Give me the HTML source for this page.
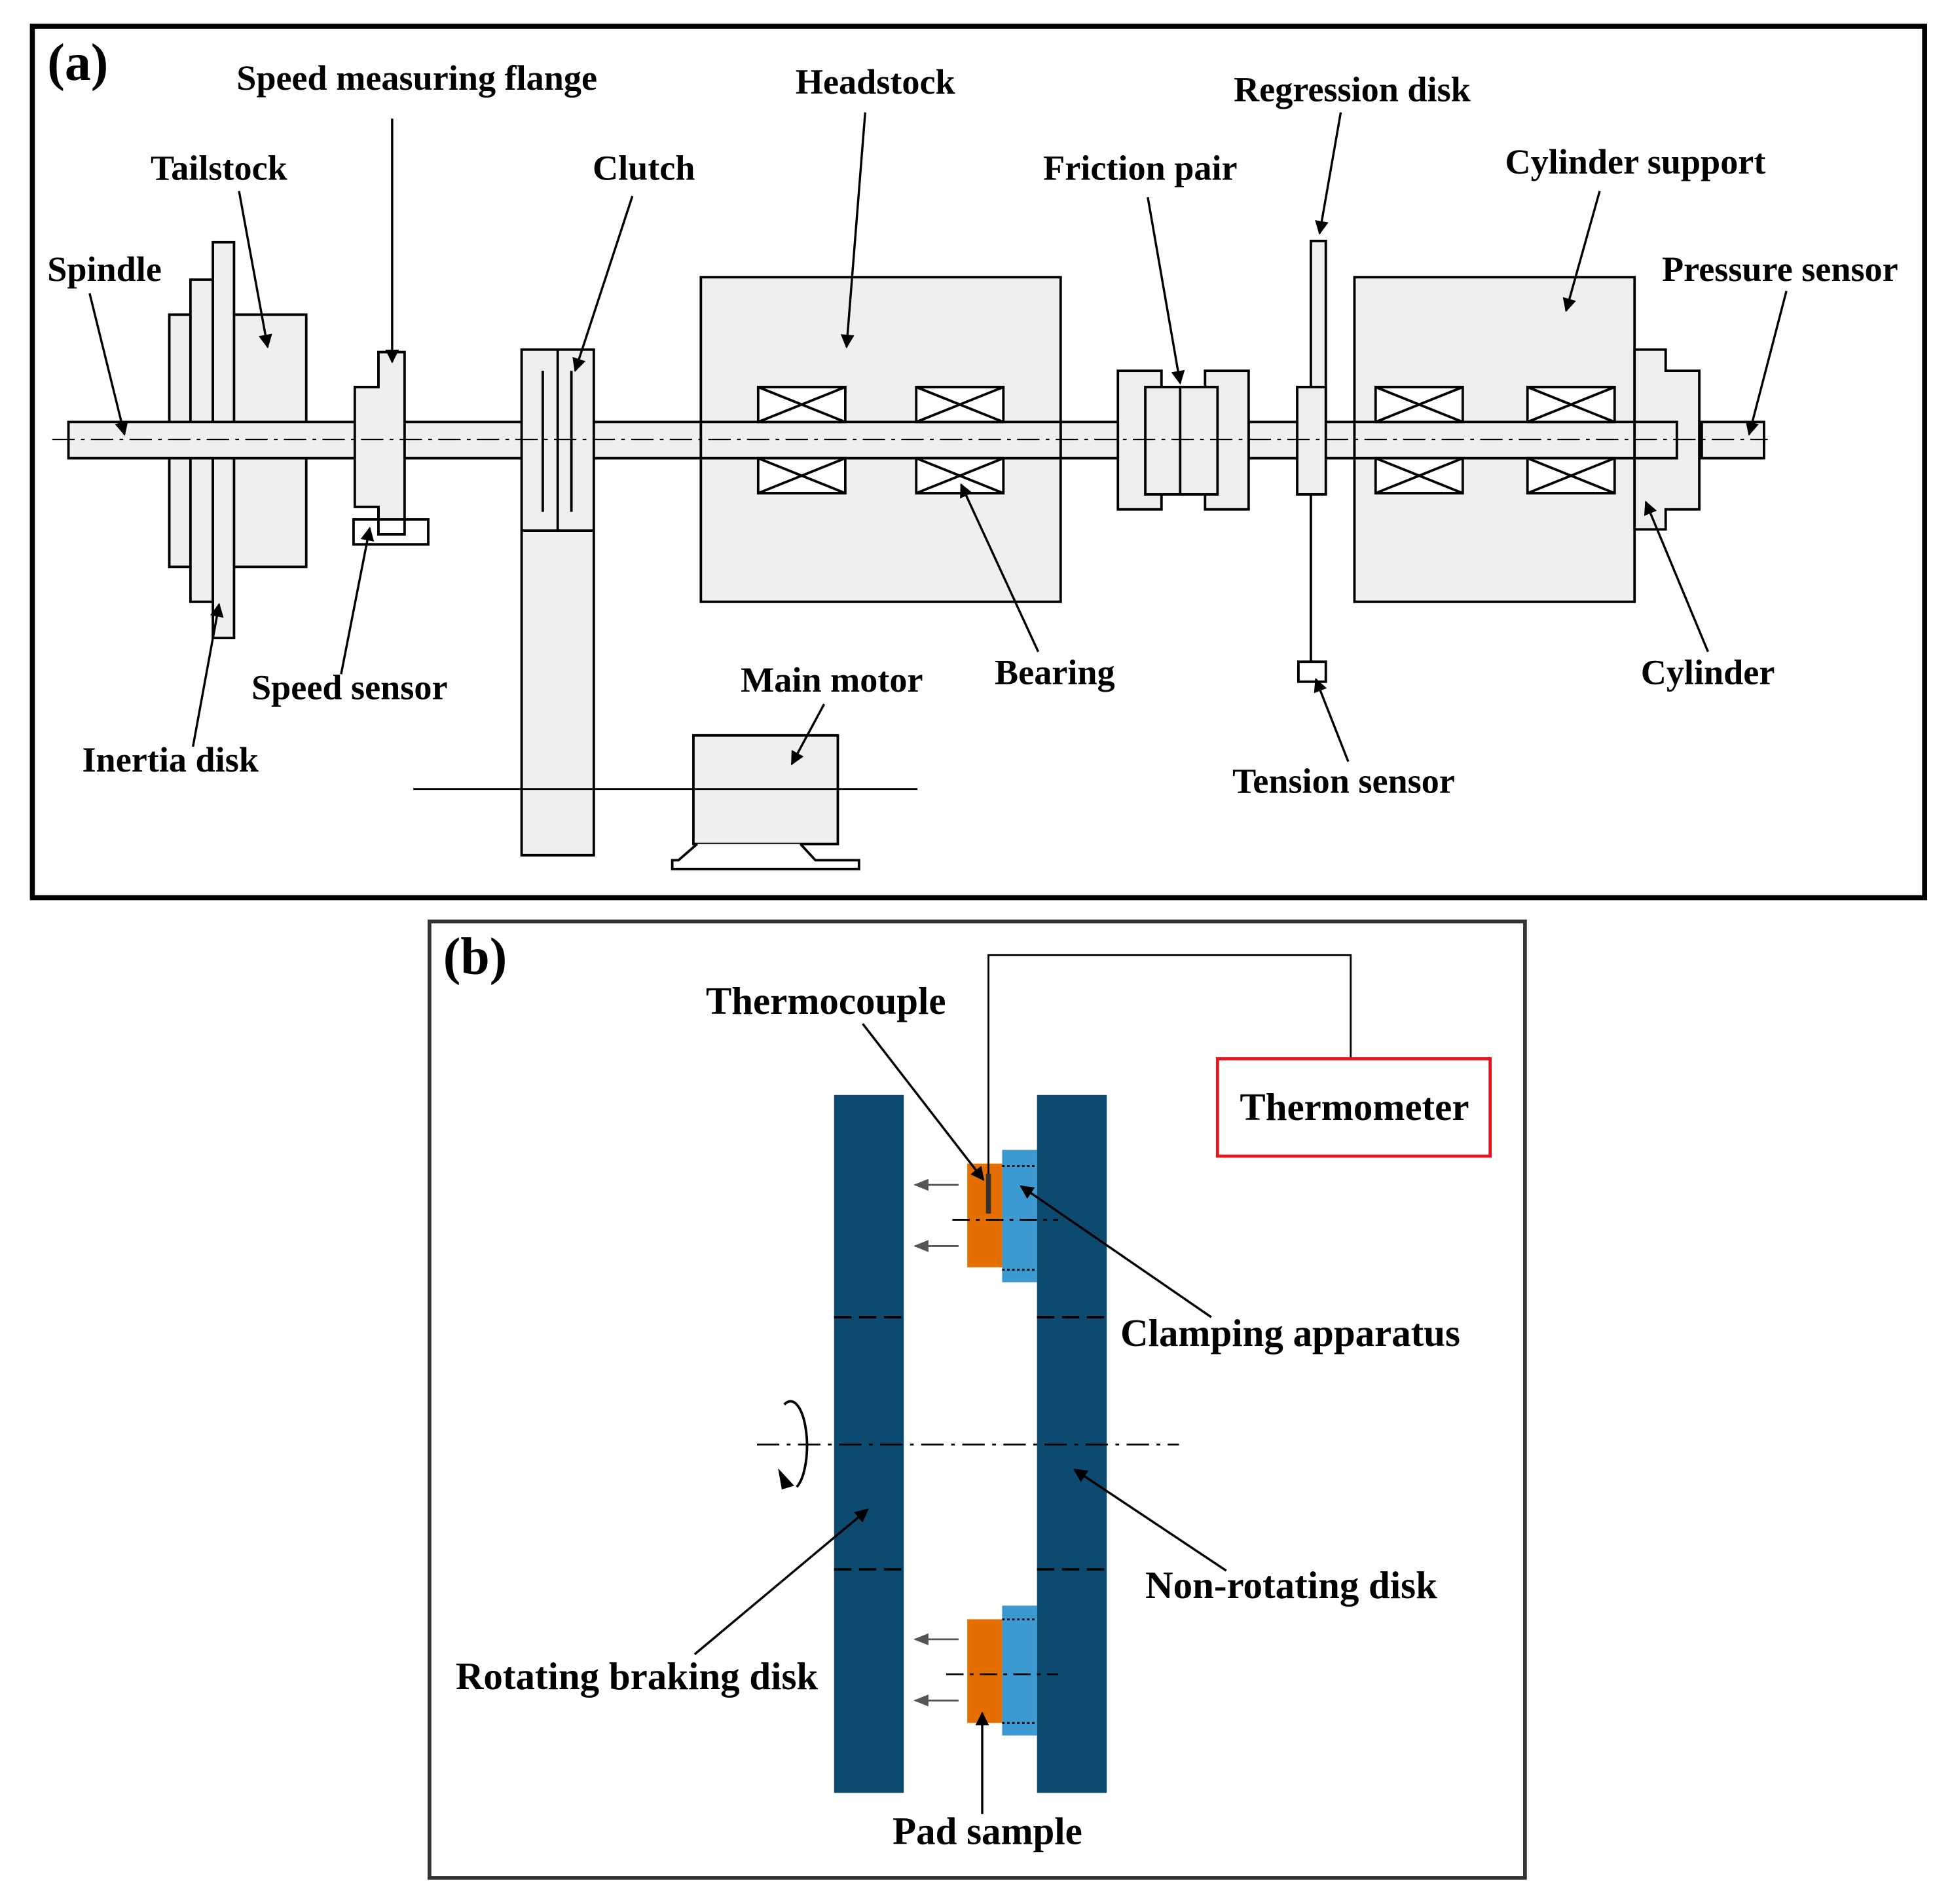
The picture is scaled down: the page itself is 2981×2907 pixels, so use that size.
<!DOCTYPE html>
<html><head><meta charset="utf-8"><style>
html,body{margin:0;padding:0;background:#fff;}
svg{display:block;}
text{font-family:"Liberation Serif",serif;font-weight:bold;font-size:28.5px;fill:#000;}
</style></head><body>
<svg width="2981" height="2907" viewBox="0 0 1568 1525" preserveAspectRatio="none" xmlns="http://www.w3.org/2000/svg">
<defs>
<marker id="ar" viewBox="0 0 10 10" refX="9" refY="5" markerWidth="14" markerHeight="11" orient="auto" markerUnits="userSpaceOnUse">
<path d="M0,0 L10,5 L0,10 z" fill="#000"/></marker>
<marker id="ga" viewBox="0 0 10 10" refX="9" refY="5" markerWidth="16" markerHeight="12" orient="auto" markerUnits="userSpaceOnUse">
<path d="M0,1 L10,5 L0,9 z" fill="#555"/></marker>
</defs>
<rect width="1568" height="1525" fill="#fff"/>
<rect x="26" y="21" width="1520" height="698" fill="none" stroke="#000" stroke-width="4"/>
<text x="38" y="64" style="font-size:42px">(a)</text>
<g stroke="#000" stroke-width="2" fill="#efefef">
<rect x="136" y="252" width="110" height="202"/>
<rect x="153" y="224" width="18" height="258"/>
<rect x="171" y="194" width="17" height="317"/>
<rect x="55" y="338" width="855" height="29"/>
<rect x="1003" y="338" width="344" height="29"/>
<rect x="1367" y="338" width="50" height="29"/>
<path d="M285,310 L304,310 L304,282 L325,282 L325,432 L304,432 L304,406 L285,406 Z"/>
<rect x="284" y="416" width="60" height="20" fill="#fff"/>
<path d="M304,406 L304,428 L325,428 L325,416" fill="none"/>
<rect x="419" y="280" width="58" height="405"/>
<line x1="448" y1="280" x2="448" y2="425"/>
<line x1="419" y1="425" x2="477" y2="425"/>
<line x1="436" y1="297" x2="436" y2="410"/>
<line x1="459" y1="297" x2="459" y2="410"/>
<rect x="563" y="222" width="289" height="260"/>
<rect x="563" y="338" width="289" height="29"/>
<rect x="898" y="297" width="35" height="111"/>
<rect x="968" y="297" width="35" height="111"/>
<rect x="920" y="310" width="58" height="86"/>
<line x1="948" y1="310" x2="948" y2="396"/>
<rect x="1053" y="193" width="12" height="146"/>
<rect x="1042" y="310" width="23" height="86"/>
<line x1="1053" y1="396" x2="1053" y2="530"/>
<rect x="1043" y="530" width="22" height="16" fill="#fff"/>
<rect x="1088" y="222" width="225" height="260"/>
<rect x="1088" y="338" width="259" height="29"/>
<path d="M1313,280 L1338,280 L1338,297 L1365,297 L1365,408 L1338,408 L1338,424 L1313,424 Z"/>
<rect x="1313" y="338" width="34" height="29"/>
<rect x="557" y="589" width="116" height="87"/>
<path d="M560,676 L545,689 L540,689 L540,696 L690,696 L690,689 L655,689 L643,676" fill="#fff"/>
</g>
<g stroke="#000" stroke-width="2" fill="#fff">
<g id="br"><rect x="609" y="310" width="70" height="28"/><path d="M609,310 L679,338 M679,310 L609,338"/></g>
<use href="#br" x="127"/><use href="#br" y="57"/><use href="#br" x="127" y="57"/>
<use href="#br" x="496"/><use href="#br" x="618"/><use href="#br" x="496" y="57"/><use href="#br" x="618" y="57"/>
</g>
<line x1="42" y1="352" x2="1420" y2="352" stroke="#000" stroke-width="1.2" stroke-dasharray="18,5,3,5"/>
<line x1="332" y1="632" x2="737" y2="632" stroke="#000" stroke-width="1.5"/>
<text x="38" y="225">Spindle</text>
<text x="121" y="144">Tailstock</text>
<text x="190" y="72">Speed measuring flange</text>
<text x="476" y="144">Clutch</text>
<text x="639" y="75">Headstock</text>
<text x="838" y="144">Friction pair</text>
<text x="991" y="81">Regression disk</text>
<text x="1209" y="139">Cylinder support</text>
<text x="1335" y="225">Pressure sensor</text>
<text x="202" y="560">Speed sensor</text>
<text x="66" y="618">Inertia disk</text>
<text x="595" y="554">Main motor</text>
<text x="799" y="548">Bearing</text>
<text x="990" y="635">Tension sensor</text>
<text x="1318" y="548">Cylinder</text>
<g stroke="#000" stroke-width="1.8" marker-end="url(#ar)">
<line x1="72" y1="235" x2="100" y2="348"/>
<line x1="192" y1="153" x2="215" y2="278"/>
<line x1="315" y1="95" x2="315" y2="290"/>
<line x1="508" y1="157" x2="462" y2="297"/>
<line x1="695" y1="90" x2="680" y2="278"/>
<line x1="922" y1="158" x2="948" y2="307"/>
<line x1="1077" y1="90" x2="1060" y2="187"/>
<line x1="1285" y1="153" x2="1258" y2="249"/>
<line x1="1435" y1="233" x2="1405" y2="348"/>
<line x1="274" y1="540" x2="297" y2="423"/>
<line x1="155" y1="598" x2="176" y2="484"/>
<line x1="662" y1="564" x2="636" y2="612"/>
<line x1="834" y1="522" x2="772" y2="388"/>
<line x1="1083" y1="610" x2="1057" y2="544"/>
<line x1="1372" y1="522" x2="1322" y2="402"/>
</g>
<rect x="345" y="738" width="880" height="766" fill="none" stroke="#333" stroke-width="3"/>
<text x="356" y="780" style="font-size:42px">(b)</text>
<rect x="670" y="877" width="56" height="559" fill="#0c4a70"/>
<rect x="833" y="877" width="56" height="559" fill="#0c4a70"/>
<g stroke="#000" stroke-width="2" stroke-dasharray="14,6">
<line x1="670" y1="1055" x2="726" y2="1055"/><line x1="833" y1="1055" x2="889" y2="1055"/>
<line x1="670" y1="1257" x2="726" y2="1257"/><line x1="833" y1="1257" x2="889" y2="1257"/>
</g>
<line x1="608" y1="1157" x2="947" y2="1157" stroke="#000" stroke-width="1.5" stroke-dasharray="18,6,3,6"/>
<path d="M630,1125 A13,35 0 1 1 640,1191" fill="none" stroke="#000" stroke-width="2"/>
<path d="M625,1176 L638,1190 L628,1193 Z" fill="#000"/>
<rect x="805" y="921" width="28" height="106" fill="#3d9ad0"/>
<rect x="777" y="932" width="28" height="83" fill="#e46f00"/>
<rect x="805" y="1286" width="28" height="104" fill="#3d9ad0"/>
<rect x="777" y="1297" width="28" height="83" fill="#e46f00"/>
<g stroke="#000" stroke-width="1.5" stroke-dasharray="2,2">
<line x1="805" y1="934" x2="833" y2="934"/><line x1="805" y1="1017" x2="833" y2="1017"/>
<line x1="805" y1="1297" x2="833" y2="1297"/><line x1="805" y1="1380" x2="833" y2="1380"/>
</g>
<g stroke="#000" stroke-width="1.5" stroke-dasharray="14,5,3,5">
<line x1="765" y1="977" x2="850" y2="977"/><line x1="760" y1="1341" x2="850" y2="1341"/>
</g>
<g stroke="#555" stroke-width="1.5" marker-end="url(#ga)">
<line x1="770" y1="949" x2="735" y2="949"/><line x1="770" y1="998" x2="735" y2="998"/>
<line x1="770" y1="1313" x2="735" y2="1313"/><line x1="770" y1="1362" x2="735" y2="1362"/>
</g>
<rect x="792" y="940" width="4" height="32" fill="#333"/>
<path d="M794,940 L794,765 L1085,765 L1085,848" fill="none" stroke="#000" stroke-width="1.5"/>
<rect x="978" y="848" width="219" height="78" fill="#fff" stroke="#e8141c" stroke-width="2.5"/>
<text x="1088" y="897" text-anchor="middle" style="font-size:31px">Thermometer</text>
<text x="567" y="812" style="font-size:31px">Thermocouple</text>
<text x="900" y="1078" style="font-size:31px">Clamping apparatus</text>
<text x="920" y="1280" style="font-size:31px">Non-rotating disk</text>
<text x="366" y="1353" style="font-size:31px">Rotating braking disk</text>
<text x="717" y="1477" style="font-size:31px">Pad sample</text>
<g stroke="#000" stroke-width="1.8" marker-end="url(#ar)">
<line x1="693" y1="820" x2="790" y2="945"/>
<line x1="973" y1="1055" x2="820" y2="950"/>
<line x1="985" y1="1258" x2="863" y2="1177"/>
<line x1="558" y1="1325" x2="697" y2="1209"/>
<line x1="789" y1="1453" x2="789" y2="1372"/>
</g>
</svg>
</body></html>
